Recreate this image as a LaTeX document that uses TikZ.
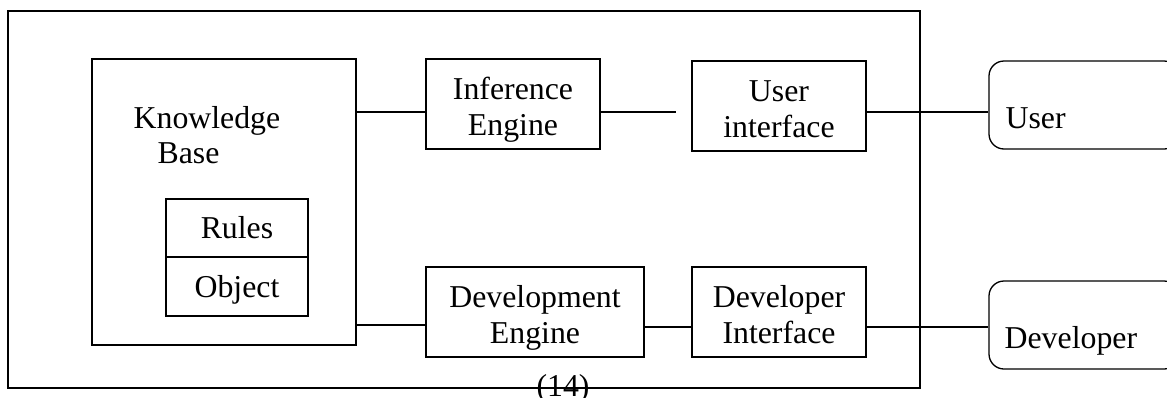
\documentclass[tikz,border=0pt]{standalone}
\usepackage{fontspec}
\setmainfont{Liberation Serif}
\begin{document}
\begin{tikzpicture}[x=1pt,y=-1pt,
  every node/.style={font=\fontsize{31.8}{36}\selectfont},
  line width=1.3pt,
  blk/.style={draw, align=center, inner sep=0pt, minimum height=90pt, text height=62pt, text depth=0pt},
  cell/.style={draw, inner sep=0pt, minimum width=142pt, text height=21pt, text depth=0pt},
  actor/.style={draw, rounded corners=15pt, inner sep=0pt, minimum width=190pt, minimum height=88pt},
  lbl/.style={anchor=base west, inner sep=0pt}]
\clip (0,0) rectangle (1167,397);
% outer frame
\node[draw, inner sep=0pt, minimum width=912pt, minimum height=377pt] (outer) at (464,199.5) {};
% knowledge base
\node[draw, inner sep=0pt, minimum width=264pt, minimum height=286pt] (kb) at (224,202) {};
\node[lbl] (kbt1) at (133,128) {Knowledge};
\node[lbl] (kbt2) at (157,163) {Base};
\node[cell, minimum height=58pt] (rules) at (237,228) {Rules};
\node[cell, minimum height=59pt] (object) at (237,286.5) {Object};
% engines and interfaces
\node[blk, minimum width=174pt] (inf) at (513,104) {Inference\\Engine};
\node[blk, minimum width=174pt] (ui) at (779,106) {User\\interface};
\node[blk, minimum width=218pt] (deve) at (535,312) {Development\\Engine};
\node[blk, minimum width=174pt] (devi) at (779,312) {Developer\\Interface};
% actors
\node[actor] (user) at (1084,105) {};
\node[lbl] (usert) at (1005,128) {User};
\node[actor] (dev) at (1084,325) {};
\node[lbl] (devt) at (1004,348) {Developer};
% label
\node[anchor=base, inner sep=0pt] (num) at (563,396) {(14)};
% connectors
\coordinate (ya) at (0,112);
\coordinate (yb) at (0,325);
\coordinate (yc) at (0,327);
\coordinate (infend) at (676,112);
\draw (kb.east |- ya) -- (inf.west |- ya);
\draw (inf.east |- ya) -- (infend);
\draw (ui.east |- ya) -- (user.west |- ya);
\draw (kb.east |- yb) -- (deve.west |- yb);
\draw (deve.east |- yc) -- (devi.west |- yc);
\draw (devi.east |- yc) -- (dev.west |- yc);
\end{tikzpicture}
\end{document}
